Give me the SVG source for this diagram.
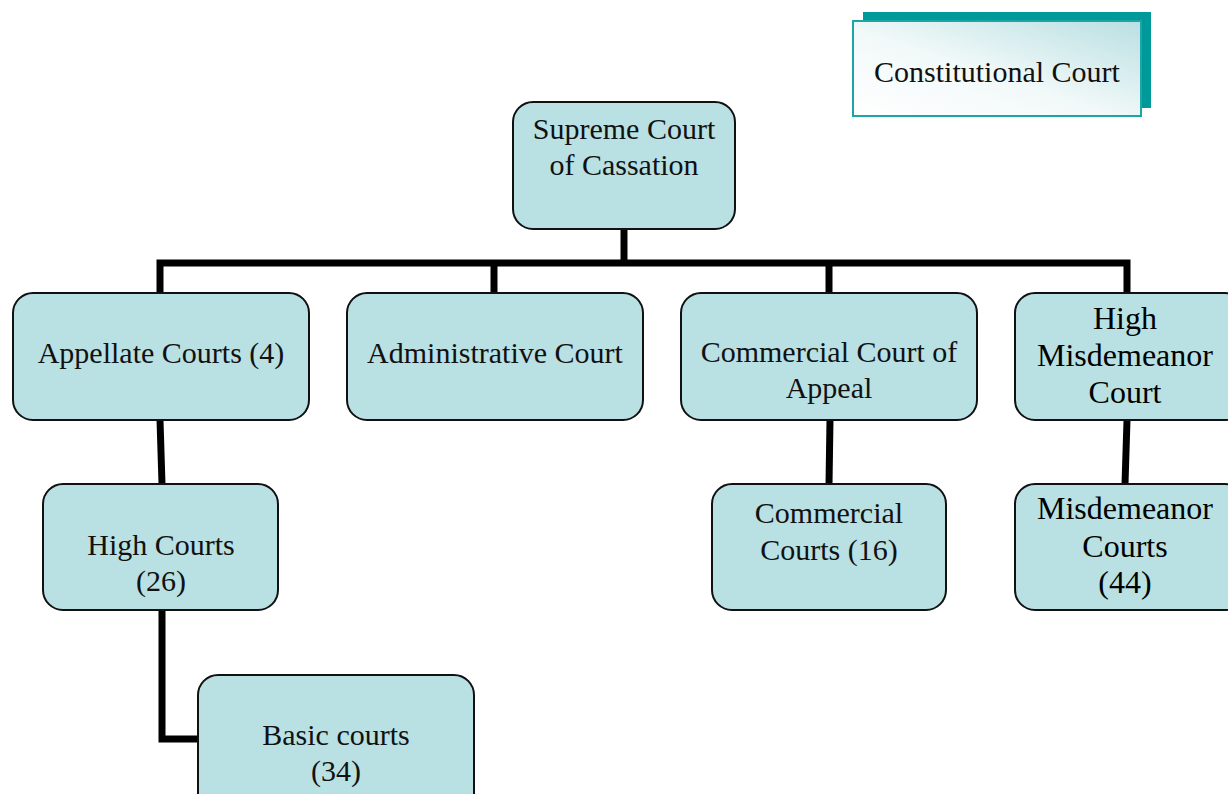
<svg xmlns="http://www.w3.org/2000/svg" width="1228" height="794" viewBox="0 0 1228 794">
<style>
.n{fill:#b9e0e3;stroke:#111;stroke-width:2}
.t{font-family:"Liberation Serif",serif;font-size:30px;fill:#111;text-anchor:middle}
.m{font-size:32px;fill:#000}
.c{stroke:#000;stroke-width:7;fill:none}
</style>
<defs>
<linearGradient id="g" x1="0" y1="1" x2="1" y2="0">
<stop offset="0" stop-color="#ffffff"/>
<stop offset="0.45" stop-color="#f2f9f9"/>
<stop offset="1" stop-color="#b9dfe2"/>
</linearGradient>
</defs>
<rect width="1228" height="794" fill="#fff"/>
<g id="connectors">
<polyline class="c" points="624,229 624,263"/>
<polyline class="c" points="160,293 160,263 1127,263 1127,293"/>
<polyline class="c" points="494,263 494,293"/>
<polyline class="c" points="829,263 829,293"/>
<polyline class="c" points="160,420 162,484"/>
<polyline class="c" points="162,610 162,739 198,739"/>
<polyline class="c" points="830,420 829,484"/>
<polyline class="c" points="1127,420 1125,484"/>
</g>
<g id="constitutional">
<rect x="863" y="12" width="288" height="96" fill="#009999"/>
<rect x="853" y="21" width="288" height="95" fill="url(#g)" stroke="#1aa6a6" stroke-width="2"/>
<text class="t" x="997" y="82">Constitutional Court</text>
</g>
<g id="supreme">
<rect class="n" x="513" y="102" width="222" height="127" rx="20"/>
<text class="t" x="624" y="139">Supreme Court</text>
<text class="t" x="624" y="175">of Cassation</text>
</g>
<g id="appellate">
<rect class="n" x="13" y="293" width="296" height="127" rx="20"/>
<text class="t" x="161" y="363">Appellate Courts (4)</text>
</g>
<g id="administrative">
<rect class="n" x="347" y="293" width="296" height="127" rx="20"/>
<text class="t" x="495" y="363">Administrative Court</text>
</g>
<g id="commercial-appeal">
<rect class="n" x="681" y="293" width="296" height="127" rx="20"/>
<text class="t" x="829" y="362">Commercial Court of</text>
<text class="t" x="829" y="398">Appeal</text>
</g>
<g id="high-misdemeanor">
<rect class="n" x="1015" y="293" width="230" height="127" rx="20"/>
<text class="t m" x="1125" y="329">High</text>
<text class="t m" x="1125" y="366">Misdemeanor</text>
<text class="t m" x="1125" y="403">Court</text>
</g>
<g id="high-courts">
<rect class="n" x="43" y="484" width="235" height="126" rx="20"/>
<text class="t" x="161" y="555">High Courts</text>
<text class="t" x="161" y="591">(26)</text>
</g>
<g id="commercial-courts">
<rect class="n" x="712" y="484" width="234" height="126" rx="20"/>
<text class="t" x="829" y="523">Commercial</text>
<text class="t" x="829" y="560">Courts (16)</text>
</g>
<g id="misdemeanor-courts">
<rect class="n" x="1015" y="484" width="230" height="126" rx="20"/>
<text class="t m" x="1125" y="519">Misdemeanor</text>
<text class="t m" x="1125" y="557">Courts</text>
<text class="t m" x="1125" y="593">(44)</text>
</g>
<g id="basic-courts">
<rect class="n" x="198" y="675" width="276" height="140" rx="20"/>
<text class="t" x="336" y="745">Basic courts</text>
<text class="t" x="336" y="781">(34)</text>
</g>
</svg>
